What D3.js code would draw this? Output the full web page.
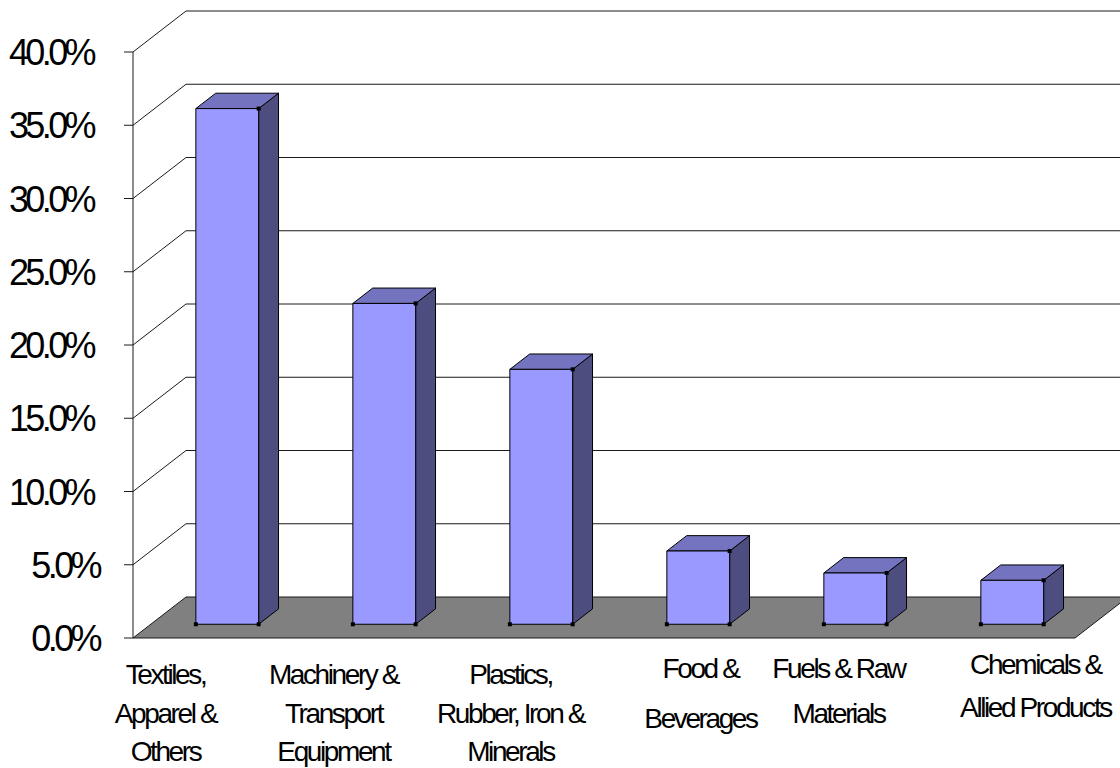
<!DOCTYPE html>
<html>
<head>
<meta charset="utf-8">
<script src="https://cdn.jsdelivr.net/npm/d3@7"></script>
<style>
  html, body { margin: 0; padding: 0; background: #fff; }
  svg { display: block; }
  text { font-family: "Liberation Sans", Arial, sans-serif; fill: #000; }
</style>
</head>
<body>
<svg id="chart" width="1120" height="768"></svg>
<script>
// ---- data ----
const categories = [
  "Textiles, Apparel & Others",
  "Machinery & Transport Equipment",
  "Plastics, Rubber, Iron & Minerals",
  "Food & Beverages",
  "Fuels & Raw Materials",
  "Chemicals & Allied Products"
];
const categoryLines = [
  ["Textiles,", "Apparel &", "Others"],
  ["Machinery &", "Transport", "Equipment"],
  ["Plastics,", "Rubber, Iron &", "Minerals"],
  ["Food &", "Beverages"],
  ["Fuels & Raw", "Materials"],
  ["Chemicals &", "Allied Products"]
];
const shares = [35.2, 21.9, 17.4, 5.0, 3.5, 3.0];
const yTicks = [0, 5, 10, 15, 20, 25, 30, 35, 40];
const yTickLabels = ["0.0%", "5.0%", "10.0%", "15.0%", "20.0%", "25.0%", "30.0%", "35.0%", "40.0%"];

// ---- layout ----
const svg = d3.select("#chart");
const frontLeft = 133, frontRight = 1075;
const depthDX = 53, depthDY = 41;      // full depth offset of the 3D box
const barZ0 = 0.335, barZ1 = 0.71;     // bar depth position (fraction of floor depth)

const x = d3.scaleBand().domain(categories).range([frontLeft, frontRight])
  .paddingInner(0.6).paddingOuter(0.3);
const y = d3.scaleLinear().domain([0, 40]).range([638, 52]);

// projection: (screen x at front, value, depth fraction) -> [sx, sy]
const P = (px, v, z) => [px + z * depthDX, y(v) - z * depthDY];
const poly = pts => pts.map(p => p.join(",")).join(" ");

// back wall gridlines
svg.append("g").selectAll("line").data(yTicks.filter(t => t > 0)).join("line")
  .attr("x1", d => P(frontLeft, d, 1)[0]).attr("y1", d => P(frontLeft, d, 1)[1])
  .attr("x2", 1125).attr("y2", d => P(frontLeft, d, 1)[1])
  .attr("stroke", "#1a1a1a").attr("stroke-width", 1);

// left wall diagonals
svg.append("g").selectAll("line").data(yTicks.filter(t => t > 0)).join("line")
  .attr("x1", d => P(frontLeft, d, 0)[0]).attr("y1", d => P(frontLeft, d, 0)[1])
  .attr("x2", d => P(frontLeft, d, 1)[0]).attr("y2", d => P(frontLeft, d, 1)[1])
  .attr("stroke", "#1a1a1a").attr("stroke-width", 1);

// floor
svg.append("polygon")
  .attr("points", poly([P(frontLeft, 0, 0), P(frontRight, 0, 0), P(frontRight, 0, 1), P(frontLeft, 0, 1)]))
  .attr("fill", "#808080").attr("stroke", "#1a1a1a").attr("stroke-width", 1);

// left axis line + ticks
svg.append("line")
  .attr("x1", frontLeft).attr("x2", frontLeft).attr("y1", y(40)).attr("y2", y(0))
  .attr("stroke", "#1a1a1a");
svg.append("g").selectAll("line").data(yTicks).join("line")
  .attr("x1", frontLeft - 9).attr("x2", frontLeft).attr("y1", d => y(d)).attr("y2", d => y(d))
  .attr("stroke", "#1a1a1a");
svg.append("g").selectAll("text").data(yTicks).join("text")
  .attr("x", (d, i) => d >= 10 ? 93 : 99)
  .attr("y", d => y(d) + 13)
  .attr("text-anchor", "end")
  .attr("font-size", 36).attr("letter-spacing", "-3.6px")
  .text((d, i) => yTickLabels[i]);

// bars
const bw = x.bandwidth();
const bars = svg.append("g").selectAll("g").data(categories).join("g");
bars.each(function(c, i) {
  const g = d3.select(this);
  const v = shares[i];
  const x0 = x(c) - 2, x1 = x(c) - 2 + bw;
  // right side
  g.append("polygon")
    .attr("points", poly([P(x1, 0, barZ0), P(x1, 0, barZ1), P(x1, v, barZ1), P(x1, v, barZ0)]))
    .attr("fill", "#4d4d80").attr("stroke", "#000").attr("stroke-width", 1).attr("stroke-linejoin", "round");
  // top
  g.append("polygon")
    .attr("points", poly([P(x0, v, barZ0), P(x1, v, barZ0), P(x1, v, barZ1), P(x0, v, barZ1)]))
    .attr("fill", "#7373bf").attr("stroke", "#000").attr("stroke-width", 1).attr("stroke-linejoin", "round");
  // front
  g.append("polygon")
    .attr("points", poly([P(x0, 0, barZ0), P(x1, 0, barZ0), P(x1, v, barZ0), P(x0, v, barZ0)]))
    .attr("fill", "#9999ff").attr("stroke", "#000").attr("stroke-width", 1).attr("stroke-linejoin", "round");
  // small corner handles
  [P(x0, 0, barZ0), P(x1, 0, barZ0), P(x1, v, barZ0)].forEach(p => {
    g.append("rect").attr("x", p[0] - 2).attr("y", p[1] - 2)
      .attr("width", 4).attr("height", 4).attr("fill", "#000");
  });
});

// category labels (per-label nudges mimic the original's label placement)
const labelShift = [-46, -35, -15, 18, -1, 39];
const labelFirstBase = [684, 684, 684, 678, 678, 674];
const labelLineH = [38.5, 38.5, 38.5, 50, 45, 43];
const labels = svg.append("g").selectAll("text").data(categories).join("text")
  .attr("text-anchor", "middle")
  .attr("font-size", 28).attr("letter-spacing", "-2.4px");
labels.each(function(c, i) {
  const t = d3.select(this);
  const cx = x(c) + bw / 2 + labelShift[i];
  categoryLines[i].forEach((ln, j) => {
    t.append("tspan").attr("x", cx).attr("y", labelFirstBase[i] + j * labelLineH[i]).text(ln);
  });
});
</script>
</body>
</html>
